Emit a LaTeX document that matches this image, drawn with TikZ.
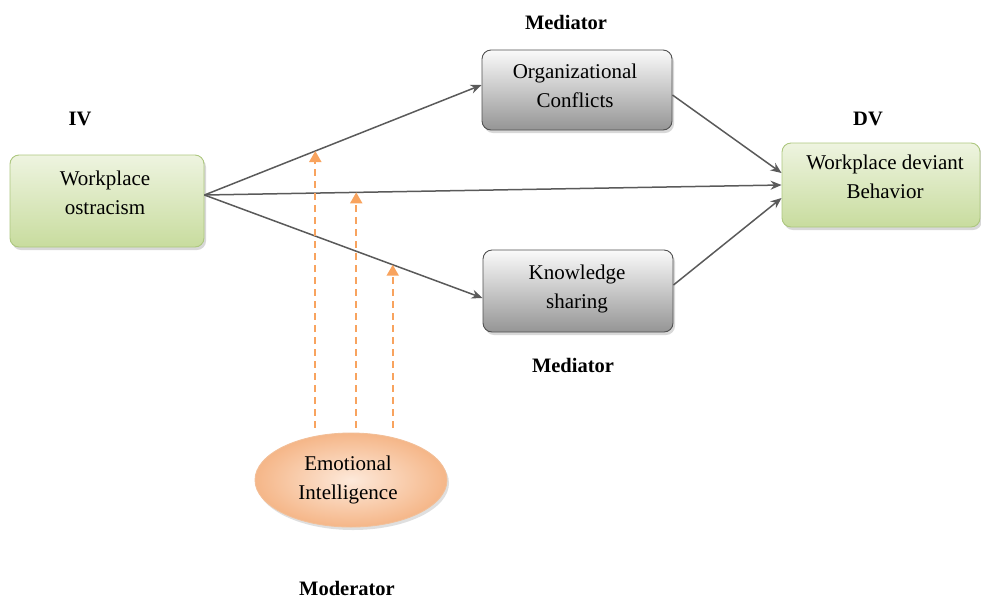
\documentclass[tikz,border=0pt]{standalone}
\usepackage{fontspec}
\setmainfont{Liberation Serif}
\usetikzlibrary{arrows.meta,shapes.geometric,shadows,calc}
\definecolor{gborder}{HTML}{ADC77F}
\definecolor{gtop}{HTML}{EEF4E0}
\definecolor{gbotc}{HTML}{C8DC9E}
\definecolor{kborder}{HTML}{505050}
\definecolor{ktop}{HTML}{FAFAFA}
\definecolor{kbot}{HTML}{959595}
\definecolor{oborder}{HTML}{F2BF98}
\definecolor{oin}{HTML}{FDE9DA}
\definecolor{oout}{HTML}{F5B688}
\definecolor{odash}{HTML}{F8A35E}
\definecolor{lineg}{HTML}{5A5A5A}
\tikzset{
  boxtext/.style={font=\fontsize{21}{29}\selectfont, align=center, inner sep=0pt},
  greenbox/.style={rectangle, rounded corners=9pt, draw=gborder, line width=0.9pt,
     top color=gtop, bottom color=gbotc, drop shadow={shadow xshift=2pt, shadow yshift=-3pt, fill=black!30, opacity=0.5}},
  graybox/.style={rectangle, rounded corners=9pt, draw=kborder, line width=0.9pt,
     top color=ktop, bottom color=kbot, drop shadow={shadow xshift=2pt, shadow yshift=-3pt, fill=black!30, opacity=0.5}},
  orangeell/.style={ellipse, draw=oborder, line width=0.9pt, inner color=oin, outer color=oout,
     drop shadow={shadow xshift=2pt, shadow yshift=-3pt, fill=black!25, opacity=0.5}},
  conn/.style={draw=lineg, line width=1.5pt, -{Stealth[length=11pt,width=9pt]}},
  modarrow/.style={draw=odash, line width=2pt, dash pattern=on 7pt off 5pt, -{Triangle[length=11pt,width=12pt]}},
  lab/.style={font=\fontsize{20.5}{24}\selectfont\bfseries, anchor=base}
}
\begin{document}
\begin{tikzpicture}[x=1pt,y=-1pt]
\useasboundingbox (0,0) rectangle (981,598);
\node[greenbox, minimum width=194pt, minimum height=92pt] (wo) at (107,201) {};
\node[graybox, minimum width=190pt, minimum height=80pt] (oc) at (577,90) {};
\node[greenbox, minimum width=198pt, minimum height=84pt] (dv) at (881,185) {};
\node[graybox, minimum width=190pt, minimum height=82pt] (ks) at (578,291) {};
\node[orangeell, minimum width=192pt, minimum height=94pt, inner sep=0pt] (ei) at (351,480) {};

\node[boxtext] (wot) at (105,193) {Workplace\\ostracism};
\node[boxtext] (oct) at (575,86) {Organizational\\Conflicts};
\node[boxtext] (dvt) at (885,177) {Workplace deviant\\Behavior};
\node[boxtext] (kst) at (577,288.5) {Knowledge\\sharing};
\node[boxtext] (eit) at (348,479.5) {Emotional\\Intelligence};

\node[lab] (l1) at (566,29) {Mediator};
\node[lab] (l2) at (80,125) {IV};
\node[lab] (l3) at (868,125) {DV};
\node[lab] (l4) at (573,372) {Mediator};
\node[lab] (l5) at (347,595) {Moderator};

\coordinate (src) at ([yshift=6pt]wo.east);
\path[conn] (src) -- coordinate[pos=0.40] (m1) ([yshift=5pt]oc.west);
\path[conn] (src) -- coordinate[pos=0.263] (m2) (dv.west);
\path[conn] (src) -- coordinate[pos=0.677] (m3) ([yshift=-7pt]ks.west);
\path[conn] ([yshift=-5pt]oc.east) -- ([yshift=12pt]dv.west);
\path[conn] ([yshift=6pt]ks.east) -- ([yshift=-13pt]dv.west);

\path[modarrow] ($(ei.north -| m1)+(0,-5)$) -- (m1);
\path[modarrow] ($(ei.north -| m2)+(0,-5)$) -- (m2);
\path[modarrow] ($(ei.north -| m3)+(0,-5)$) -- (m3);
\end{tikzpicture}
\end{document}
